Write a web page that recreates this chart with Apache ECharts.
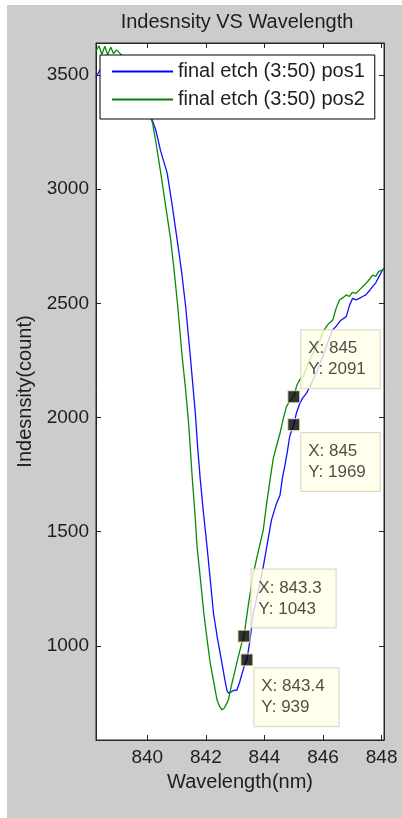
<!DOCTYPE html>
<html><head><meta charset="utf-8">
<script src="https://cdn.jsdelivr.net/npm/echarts@6.0.0/dist/echarts.min.js"></script>
<style>
html,body{margin:0;padding:0;background:#fff;width:402px;height:818px;overflow:hidden}
#c{position:absolute;left:7px;top:5px;width:395px;height:813px;background:#cccccc}
</style>
</head><body><div id="c"></div>
<script>
const chartTitle = 'Indesnsity VS Wavelength';
const xAxisName = 'Wavelength(nm)';
const yAxisName = 'Indesnsity(count)';
const seriesNames = ['final etch (3:50) pos1', 'final etch (3:50) pos2'];
const xTicks = [840, 842, 844, 846, 848];
const yTicks = [1000, 1500, 2000, 2500, 3000, 3500];

const pos1Wavelength = [838.25,838.4,838.6,838.8,839.0,839.2,839.4,839.6,839.8,840.0,840.15,840.29,840.45,840.68,840.85,841.02,841.17,841.31,841.47,841.57,841.64,841.72,841.81,841.92,842.04,842.15,842.26,842.40,842.55,842.65,842.72,842.77,842.85,842.95,843.06,843.15,843.25,843.34,843.4,843.5,843.62,843.8,843.96,844.1,844.24,844.4,844.53,844.62,844.69,844.78,844.86,845.0,845.09,845.2,845.3,845.43,845.57,845.71,845.85,845.99,846.15,846.33,846.45,846.6,846.79,846.9,847.01,847.12,847.24,847.35,847.46,847.58,847.69,847.8,847.9,848.03,848.1];
const pos1Intensity = [3490,3525,3555,3570,3575,3565,3540,3500,3440,3370,3310,3259,3170,3070,2930,2778,2640,2486,2267,2121,2019,1870,1727,1580,1435,1290,1143,1030,924,850,805,793,798,805,807,840,885,924,939,1020,1143,1250,1347,1450,1552,1620,1660,1740,1785,1850,1917,1969,2019,2060,2085,2106,2140,2179,2220,2267,2325,2384,2400,2425,2442,2490,2522,2515,2522,2530,2537,2555,2573,2590,2615,2646,2655];

const pos2Wavelength = [838.25,838.35,838.45,838.55,838.65,838.75,838.85,838.95,839.1,839.3,839.5,839.7,839.9,840.05,840.18,840.3,840.46,840.6,840.8,840.92,841.04,841.19,841.31,841.42,841.53,841.62,841.7,841.8,841.93,842.05,842.15,842.27,842.38,842.47,842.55,842.63,842.7,842.77,842.88,843.0,843.1,843.2,843.3,843.45,843.62,843.8,843.96,844.07,844.19,844.3,844.4,844.53,844.65,844.75,844.88,845.0,845.1,845.2,845.32,845.43,845.54,845.65,845.77,845.9,846.0,846.11,846.2,846.33,846.45,846.56,846.68,846.79,846.9,847.0,847.13,847.25,847.35,847.45,847.55,847.69,847.8,847.9,848.03,848.1];
const pos2Intensity = [3605,3628,3590,3626,3588,3622,3594,3610,3590,3565,3530,3470,3400,3340,3290,3200,3070,2950,2778,2640,2486,2267,2121,1960,1745,1590,1435,1310,1143,1020,924,840,764,735,720,728,745,764,830,895,950,1000,1043,1180,1318,1420,1508,1620,1727,1820,1870,1931,2000,2048,2075,2091,2140,2165,2179,2215,2252,2280,2310,2340,2375,2398,2412,2427,2480,2515,2525,2537,2530,2548,2544,2560,2573,2585,2600,2624,2618,2640,2646,2650];

const tipWavelength = [845, 845, 843.3, 843.4];
const tipIntensity = [2091, 1969, 1043, 939];

const xMin = 838.25, xMax = 848.08, yMin = 588, yMax = 3640;

const FONT = 'Liberation Sans, Arial, sans-serif';
const TXT = '#1e1e1e';
const AX = '#262626';

const tipAbove = [true, false, true, false];

function pairs(xs, ys) { return xs.map((x, i) => [x, ys[i]]); }

const chart = echarts.init(document.getElementById('c'), null, {renderer: 'canvas'});

const axisCommon = {
  type: 'value',
  splitLine: {show: false},
  axisLine: {show: true, onZero: false, lineStyle: {color: AX, width: 1}},
  axisTick: {show: true, inside: true, length: 5, lineStyle: {color: AX}}
};

chart.setOption({
  backgroundColor: '#cccccc',
  animation: false,
  graphic: [{
    type: 'text', x: 230, y: 17,
    style: {text: chartTitle, fontSize: 20, fontFamily: FONT, fill: TXT, align: 'center', verticalAlign: 'middle'}
  }],
  grid: {left: 88, right: 18, top: 38, bottom: 78, show: true, backgroundColor: '#ffffff', borderColor: AX, borderWidth: 1},
  legend: {
    data: seriesNames,
    orient: 'vertical',
    left: 93, top: 50,
    backgroundColor: '#ffffff', borderColor: '#000', borderWidth: 1,
    padding: [6, 10, 9, 12],
    itemWidth: 61, itemHeight: 2, itemGap: 7,
    icon: 'rect',
    selectedMode: false,
    textStyle: {fontSize: 20, lineHeight: 21, fontFamily: FONT, color: TXT}
  },
  xAxis: [
    Object.assign({}, axisCommon, {
      min: xMin, max: xMax, position: 'bottom',
      axisTick: Object.assign({}, axisCommon.axisTick, {customValues: xTicks}),
      axisLabel: {customValues: xTicks, fontSize: 19, fontFamily: FONT, color: TXT, margin: 8, formatter: v => String(v)},
      name: xAxisName, nameLocation: 'middle', nameGap: 32,
      nameTextStyle: {fontSize: 20, fontFamily: FONT, color: TXT}
    }),
    Object.assign({}, axisCommon, {
      min: xMin, max: xMax, position: 'top',
      axisTick: Object.assign({}, axisCommon.axisTick, {customValues: xTicks}),
      axisLabel: {show: false}
    })
  ],
  yAxis: [
    Object.assign({}, axisCommon, {
      min: yMin, max: yMax, position: 'left',
      axisTick: Object.assign({}, axisCommon.axisTick, {customValues: yTicks}),
      axisLabel: {customValues: yTicks, fontSize: 19, fontFamily: FONT, color: TXT, margin: 7, formatter: v => String(v)},
      name: yAxisName, nameLocation: 'middle', nameGap: 61,
      nameTextStyle: {fontSize: 20, fontFamily: FONT, color: TXT}
    }),
    Object.assign({}, axisCommon, {
      min: yMin, max: yMax, position: 'right',
      axisTick: Object.assign({}, axisCommon.axisTick, {customValues: yTicks}),
      axisLabel: {show: false}
    })
  ],
  series: [
    {name: seriesNames[0], type: 'line', data: pairs(pos1Wavelength, pos1Intensity), showSymbol: false, symbol: 'none',
     color: '#0000ff', lineStyle: {color: '#1010ff', width: 1.3}, z: 2},
    {name: seriesNames[1], type: 'line', data: pairs(pos2Wavelength, pos2Intensity), showSymbol: false, symbol: 'none',
     color: '#008000', lineStyle: {color: '#0a8a0a', width: 1.3}, z: 2},
    {name: 'datatips', type: 'scatter', z: 5,
     symbol: 'rect', symbolSize: 12,
     itemStyle: {color: '#000', borderColor: '#eeeebb', borderWidth: 1.2},
     data: tipWavelength.map((x, i) => ({
       value: [x, tipIntensity[i]],
       label: {position: tipAbove[i] ? [14, -60] : [14, 15]}
     })),
     label: {
       show: true,
       formatter: p => 'X: ' + p.value[0] + '\nY: ' + p.value[1],
       align: 'left', verticalAlign: 'top',
       fontSize: 17, lineHeight: 21, fontFamily: FONT, color: TXT,
       backgroundColor: '#ffffe6', borderColor: '#cfcfbf', borderWidth: 1,
       padding: [8, 14, 8, 7]
     },
     emphasis: {disabled: true}
    }
  ]
});
</script>
</body></html>
